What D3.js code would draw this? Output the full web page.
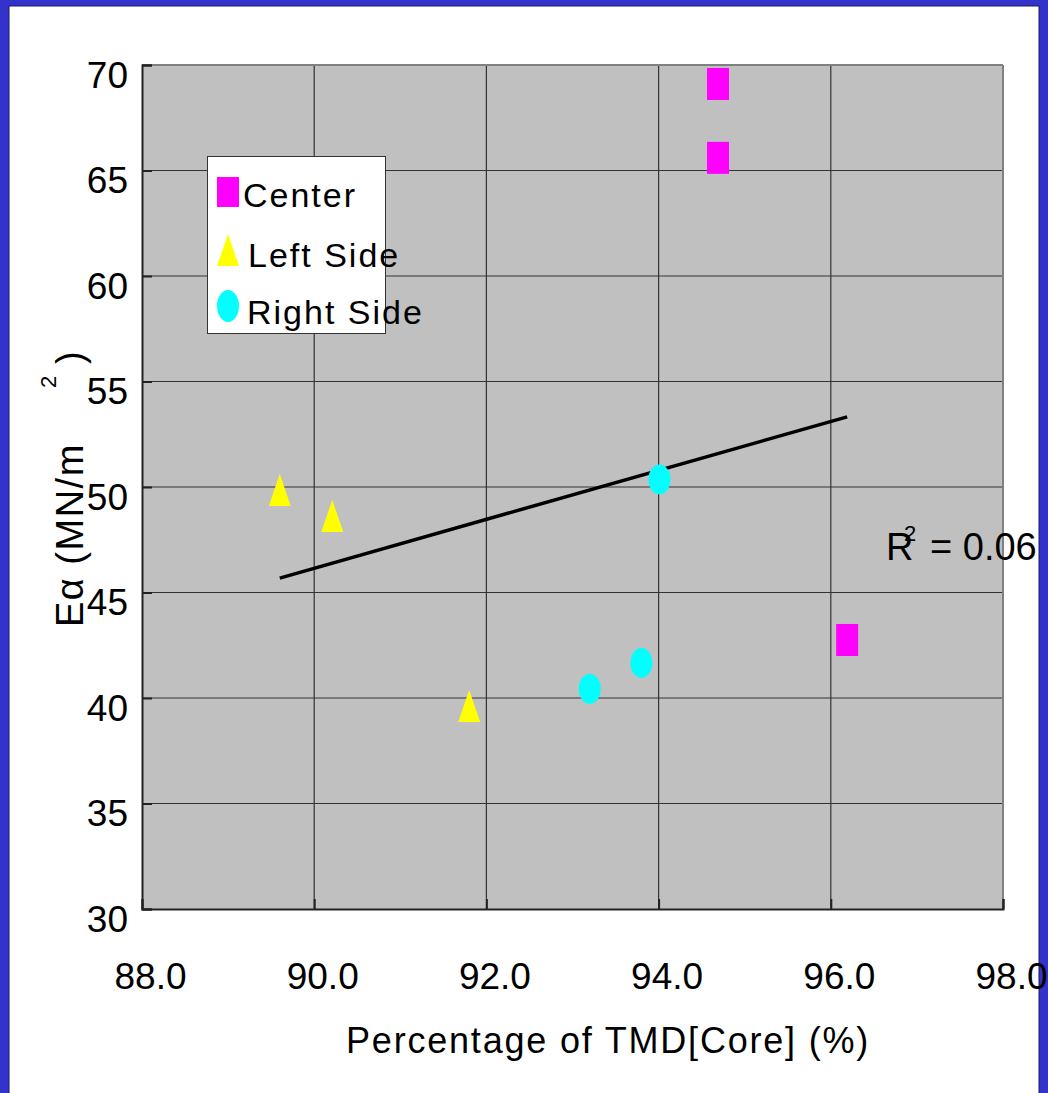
<html>
<head>
<script src="https://d3js.org/d3.v7.min.js"></script>
<style>
  body { margin: 0; background: #ffffff; }
  text { font-family: "Liberation Sans", Arial, sans-serif; fill: #000; }
</style>
</head>
<body>
<div class="svg-container"></div>
<script>
// data
var xTicks = [88, 90, 92, 94, 96, 98];
var yTicks = [30, 35, 40, 45, 50, 55, 60, 65, 70];

var centerX = [94.69, 94.69, 96.19];
var centerY = [69.10, 65.60, 42.75];
var leftX = [89.60, 90.21, 91.80];
var leftY = [49.86, 48.63, 39.62];
var rightX = [94.01, 93.80, 93.20];
var rightY = [50.36, 41.66, 40.43];

var legendNames = ["Center", "Left Side", "Right Side"];
var r2Text = "0.06";

var W = 1048, H = 1093;
var pL = 142, pT = 65, pR = 1003, pB = 909; // plot area edges

var x = d3.scaleLinear().domain([88, 98]).range([pL, pR]);
var y = d3.scaleLinear().domain([30, 70]).range([pB, pT]);

var svg = d3.select('.svg-container').append('svg').attr('width', W).attr('height', H);

// blue frame
svg.append('rect').attr('x', 0).attr('y', 0).attr('width', W).attr('height', H).attr('fill', '#3333cc');
svg.append('rect').attr('x', 9).attr('y', 6).attr('width', 1030).attr('height', H).attr('fill', '#fff')
  .attr('stroke', '#1a1a66').attr('stroke-width', 1);

// plot area
svg.append('rect').attr('x', pL).attr('y', pT).attr('width', pR - pL).attr('height', pB - pT)
  .attr('fill', '#c0c0c0');

// grid
var grid = svg.append('g');
grid.selectAll('line.h').data(yTicks.slice(1, -1)).enter().append('line')
  .attr('x1', pL).attr('x2', pR).attr('y1', function(d){return y(d);}).attr('y2', function(d){return y(d);})
  .attr('stroke', '#333').attr('stroke-width', 1.2);
grid.selectAll('line.v').data(xTicks.slice(1, -1)).enter().append('line')
  .attr('y1', pT).attr('y2', pB).attr('x1', function(d){return x(d);}).attr('x2', function(d){return x(d);})
  .attr('stroke', '#333').attr('stroke-width', 1.2);

// frame of plot
svg.append('line').attr('x1', pL).attr('x2', pR).attr('y1', pT).attr('y2', pT).attr('stroke', '#808080').attr('stroke-width', 2);
svg.append('line').attr('x1', pR).attr('x2', pR).attr('y1', pT).attr('y2', pB).attr('stroke', '#808080').attr('stroke-width', 2);

// axes
var yAxis = d3.axisLeft(y).tickValues(yTicks).tickSize(-10).tickFormat(d3.format('d'));
var xAxis = d3.axisBottom(x).tickValues(xTicks).tickSize(-10).tickFormat(d3.format('.1f'));

var gy = svg.append('g').attr('transform', 'translate(' + pL + ',0)').call(yAxis);
gy.select('.domain').attr('stroke', '#222').attr('stroke-width', 2);
gy.selectAll('.tick line').attr('stroke', '#222').attr('stroke-width', 2);
gy.selectAll('.tick text').attr('x', -14).attr('dy', null).attr('y', 22)
  .attr('font-size', 37).attr('font-family', '"Liberation Sans", Arial, sans-serif').attr('fill', '#000');

var gx = svg.append('g').attr('transform', 'translate(0,' + pB + ')').call(xAxis);
gx.select('.domain').attr('stroke', '#222').attr('stroke-width', 2);
gx.selectAll('.tick line').attr('stroke', '#222').attr('stroke-width', 2);
gx.selectAll('.tick text').attr('x', 8).attr('dy', null).attr('y', 80)
  .attr('font-size', 37).attr('font-family', '"Liberation Sans", Arial, sans-serif').attr('fill', '#000');

// trend line (least squares over all points)
var allX = centerX.concat(leftX, rightX);
var allY = centerY.concat(leftY, rightY);
var mx = d3.mean(allX), my = d3.mean(allY);
var sxy = d3.sum(allX, function(v, i){return (v - mx) * (allY[i] - my);});
var sxx = d3.sum(allX, function(v){return (v - mx) * (v - mx);});
var slope = sxy / sxx, icpt = my - slope * mx;
var trendX = d3.extent(allX);
var trend = d3.line().x(function(d){return x(d);}).y(function(d){return y(slope * d + icpt);});
svg.append('path').attr('d', trend(trendX)).attr('fill', 'none').attr('stroke', '#000').attr('stroke-width', 3.5);

// markers
var sqW = 22, sqH = 32;
svg.selectAll('rect.center').data(centerX).enter().append('rect').attr('class', 'center')
  .attr('x', function(d){return x(d) - sqW / 2;}).attr('y', function(d, i){return y(centerY[i]) - sqH / 2;})
  .attr('width', sqW).attr('height', sqH).attr('fill', '#ff00ff');

function tri(cx, cy) {
  return 'M' + cx + ',' + (cy - 16) + 'L' + (cx + 11) + ',' + (cy + 16) + 'L' + (cx - 11) + ',' + (cy + 16) + 'Z';
}
svg.selectAll('path.left').data(leftX).enter().append('path').attr('class', 'left')
  .attr('d', function(d, i){return tri(x(d), y(leftY[i]));}).attr('fill', '#ffff00');

svg.selectAll('ellipse.right').data(rightX).enter().append('ellipse').attr('class', 'right')
  .attr('cx', function(d){return x(d);}).attr('cy', function(d, i){return y(rightY[i]);})
  .attr('rx', 11).attr('ry', 15).attr('fill', '#00ffff');

// legend
var lg = svg.append('g');
lg.append('rect').attr('x', 207.5).attr('y', 156.5).attr('width', 178).attr('height', 177)
  .attr('fill', '#fff').attr('stroke', '#333').attr('stroke-width', 1);
lg.append('rect').attr('x', 217).attr('y', 177).attr('width', 22).attr('height', 30).attr('fill', '#ff00ff');
lg.append('path').attr('d', tri(228, 250)).attr('fill', '#ffff00');
lg.append('ellipse').attr('cx', 228).attr('cy', 306).attr('rx', 11).attr('ry', 16).attr('fill', '#00ffff');
var lgBase = [207, 267, 324];
var lgX = [243, 248, 247];
lg.selectAll('text').data(legendNames).enter().append('text')
  .attr('x', function(d, i){return lgX[i];}).attr('y', function(d, i){return lgBase[i];})
  .attr('font-size', 34).attr('letter-spacing', 2).text(function(d){return d;});

// R squared label
svg.append('text').attr('x', 886).attr('y', 560).attr('font-size', 38).text('R');
svg.append('text').attr('x', 904).attr('y', 541).attr('font-size', 22).text('2');
svg.append('text').attr('x', 930).attr('y', 560).attr('font-size', 38).text('= ' + r2Text);

// axis titles
svg.append('text').attr('x', 346).attr('y', 1053).attr('font-size', 36).attr('letter-spacing', 1.8)
  .text('Percentage of TMD[Core] (%)');
svg.append('text').attr('transform', 'translate(83,627) rotate(-90)').attr('font-size', 38).attr('letter-spacing', 1.5)
  .text('Eα (MN/m');
svg.append('text').attr('transform', 'translate(56,388) rotate(-90)').attr('font-size', 22).text('2');
svg.append('text').attr('transform', 'translate(83,364) rotate(-90)').attr('font-size', 38).text(')');
</script>
</body>
</html>
